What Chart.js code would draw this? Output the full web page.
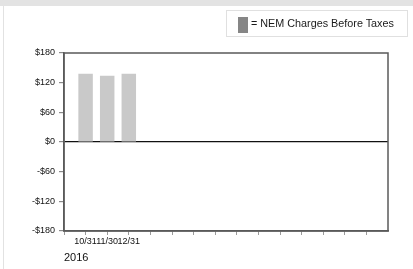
<!DOCTYPE html>
<html>
<head>
<meta charset="utf-8">
<script src="https://cdn.jsdelivr.net/npm/chart.js@4/dist/chart.umd.min.js"></script>
<style>
  body { margin: 0; background: #fff; }
  #wrap { position: relative; width: 413px; height: 269px; overflow: hidden; }
  #topband { position: absolute; left: 0; top: 0; width: 413px; height: 6px; background: #e3e3e3; }
  #leftline { position: absolute; left: 3px; top: 6px; width: 1px; height: 263px; background: #e2e2e2; }
  #legend { position: absolute; left: 226px; top: 10px; width: 180px; height: 25px; border: 1px solid #e0e0e0;
            font: 10.8px "Liberation Sans", Arial, sans-serif; color: #1a1a1a; }
  #legend .sw { position: absolute; left: 11px; top: 6px; width: 10px; height: 16px; background: #868686; }
  #legend .tx { position: absolute; left: 24px; top: 6px; }
  canvas { position: absolute; left: 0; top: 0; }
</style>
</head>
<body>
<div id="wrap">
  <div id="topband"></div>
  <div id="leftline"></div>
  <canvas id="myBarChartNem" width="413" height="269"></canvas>
  <div id="legend"><div class="sw"></div><div class="tx" id="legendText"></div></div>
</div>
<script>
// month-end dates (first and trailing slots are empty on the axis)
var monthLabels = ['', '10/31', '11/30', '12/31', '', '', '', '', '', '', '', '', '', '', '', ''];
var nemCharges = [null, 138, 134, 138, null, null, null, null, null, null, null, null, null, null, null, null];
var yTicks = [-180, -120, -60, 0, 60, 120, 180];
var seriesName = '= NEM Charges Before Taxes';
var yearLabel = '2016';

document.getElementById('legendText').textContent = seriesName;

// box around the plot area
var frame = {
	id: 'frame',
	afterDraw: function(chart) {
		var a = chart.chartArea, c = chart.ctx;
		c.save();
		c.strokeStyle = '#5a5a5a';
		c.lineWidth = 1.5;
		c.strokeRect(a.left, a.top, a.right - a.left, a.bottom - a.top);
		c.restore();
	}
};

var tickFont = { family: '"Liberation Sans", Arial, sans-serif', size: 9 };

var ctx = document.getElementById('myBarChartNem').getContext('2d');
var myChart = new Chart(ctx, {
	type: 'bar',
	data: {
		labels: monthLabels,
		datasets: [{
			label: seriesName,
			data: nemCharges,
			backgroundColor: '#c9c9c9',
			borderWidth: 0,
			categoryPercentage: 1,
			barPercentage: 0.67
		}]
	},
	options: {
		responsive: false,
		animation: false,
		events: [],
		layout: { padding: { top: 53, right: 25, left: 0, bottom: 0 } },
		plugins: {
			legend: { display: false },
			tooltip: { enabled: false }
		},
		scales: {
			x: {
				offset: false,
				afterFit: function(s) { s.height = 38; },
				grid: {
					offset: false,
					drawOnChartArea: false,
					drawTicks: true,
					tickLength: 4,
					tickColor: function(c) { return c.index === monthLabels.length - 1 ? 'transparent' : '#9a9a9a'; }
				},
				border: { display: true, color: '#5a5a5a', width: 1.5 },
				ticks: {
					autoSkip: false,
					maxRotation: 0,
					padding: 1,
					color: '#111',
					font: tickFont
				},
				title: {
					display: true,
					text: yearLabel,
					align: 'start',
					color: '#111',
					padding: { top: 0, bottom: 4 },
					font: { family: '"Liberation Sans", Arial, sans-serif', size: 11 }
				}
			},
			y: {
				min: yTicks[0],
				max: yTicks[yTicks.length - 1],
				afterFit: function(s) { s.width = 64; },
				afterBuildTicks: function(s) { s.ticks = yTicks.map(function(v) { return { value: v }; }); },
				grid: {
					drawTicks: true,
					tickLength: 5,
					tickColor: '#8a8a8a',
					color: function(c) { return c.tick && c.tick.value === 0 ? '#111' : 'transparent'; },
					lineWidth: 1.2
				},
				border: { display: true, color: '#5a5a5a', width: 1.5 },
				ticks: {
					padding: 4,
					color: '#111',
					font: tickFont,
					callback: function(v) { return (v < 0 ? '-$' : '$') + Math.abs(v); }
				}
			}
		}
	},
	plugins: [frame]
});
</script>
</body>
</html>
